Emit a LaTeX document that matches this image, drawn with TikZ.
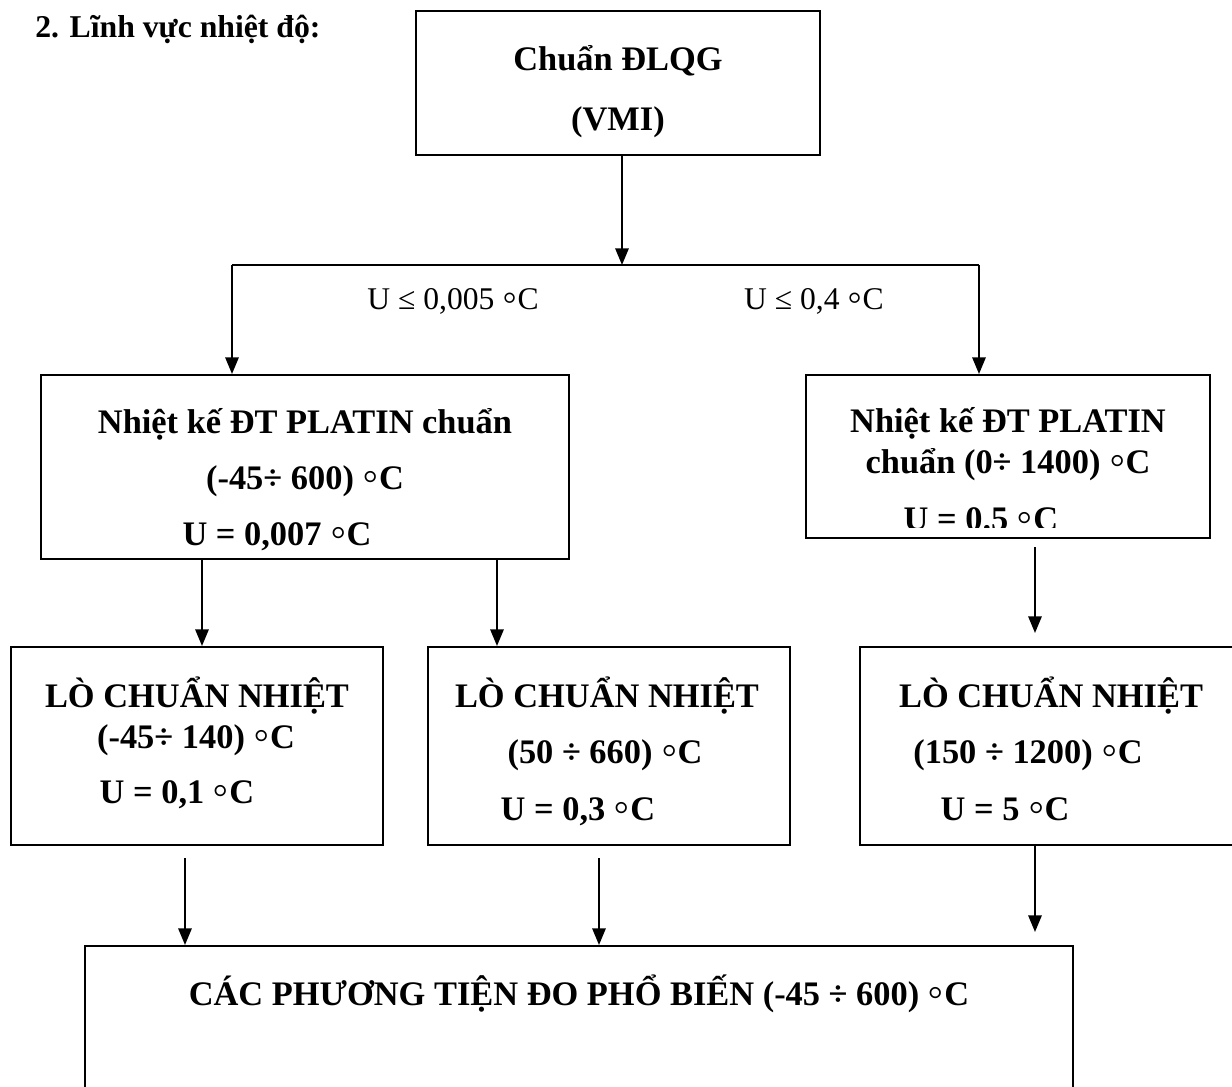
\documentclass[tikz,border=0pt]{standalone}
\usepackage{fontspec}
\usepackage{graphicx}
\setmainfont{Liberation Serif}
\usetikzlibrary{arrows.meta,fit}
\newcommand\dgring{\raisebox{-0.07em}{\scalebox{1.35}{◦}}}
\begin{document}
\begin{tikzpicture}[x=0.75pt,y=-0.75pt,
  bx/.style={draw,line width=1.5pt,inner sep=0pt,rectangle},
  bt/.style={font=\fontsize{25.8}{30}\selectfont\bfseries,inner sep=0pt,anchor=base},
  ttl/.style={font=\fontsize{23.8}{28}\selectfont\bfseries,inner sep=0pt,anchor=base west},
  rt/.style={font=\fontsize{23.7}{28}\selectfont,inner sep=0pt,anchor=base},
  arr/.style={line width=1.5pt,-{Triangle[width=10pt,length=12.5pt]}},
  ln/.style={line width=1.5pt}]
\useasboundingbox (0,0) rectangle (1232,1086);
\clip (0,0) rectangle (1232,1086);

% title
\node[ttl] (title) at (35,37) {2. Lĩnh vực nhiệt độ:};

% boxes
\node[bx, fit={(416,11) (820,155)}] (top) {};
\node[bx, fit={(41,375) (569,559)}] (L) {};
\node[bx, fit={(806,375) (1210,538)}] (R) {};
\node[bx, fit={(11,647) (383,845)}] (A) {};
\node[bx, fit={(428,647) (790,845)}] (B) {};
\node[bx, fit={(860,647) (1250,845)}] (C) {};
\node[bx, fit={(85,946) (1073,1110)}] (F) {};

% texts
\node[bt] (t1) at (618,70) {Chuẩn ĐLQG};
\node[bt] (t2) at (618,130) {(VMI)};

\node[rt] (u1) at (453,309) {U ≤ 0,005 \dgring C};
\node[rt] (u2) at (814,309) {U ≤ 0,4 \dgring C};

\node[bt] (l1) at (305,433) {Nhiệt kế ĐT PLATIN chuẩn};
\node[bt] (l2) at (305,489) {(-45÷ 600) \dgring C};
\node[bt] (l3) at (277,545) {U = 0,007 \dgring C};

\node[bt] (r1t) at (1008,432) {Nhiệt kế ĐT PLATIN};
\node[bt] (r2t) at (1008,473) {chuẩn (0÷ 1400) \dgring C};
\begin{scope}
  \clip (806,375) rectangle (1210,527);
  \node[bt] (r3t) at (981,530) {U = 0.5 \dgring C};
\end{scope}

\node[bt] (a1) at (197,707) {LÒ CHUẨN NHIỆT};
\node[bt] (a2) at (196,748) {(-45÷ 140) \dgring C};
\node[bt] (a3) at (177,803) {U = 0,1 \dgring C};

\node[bt] (b1) at (607,707) {LÒ CHUẨN NHIỆT};
\node[bt] (b2) at (605,763) {(50 ÷ 660) \dgring C};
\node[bt] (b3) at (578,820) {U = 0,3 \dgring C};

\node[bt] (c1) at (1051,707) {LÒ CHUẨN NHIỆT};
\node[bt] (c2) at (1028,763) {(150 ÷ 1200) \dgring C};
\node[bt] (c3) at (1005,820) {U = 5 \dgring C};

\node[bt] (f1) at (579,1005) {CÁC PHƯƠNG TIỆN ĐO PHỔ BIẾN (-45 ÷ 600) \dgring C};

% junction coordinates
\coordinate (j) at (622,265);
\coordinate (jl) at (232,265);
\coordinate (jr) at (979,265);
\coordinate (xa) at (202,0);
\coordinate (xb) at (497,0);
\coordinate (rs) at (1035,547);
\coordinate (re) at (1035,633);
\coordinate (as) at (185,858);
\coordinate (bs) at (599,858);
\coordinate (ce) at (1035,932);

% connectors
\draw[arr] (top.south -| j) -- (j);
\draw[ln] (jl) -- (jr);
\draw[arr] (jl) -- (jl |- L.north);
\draw[arr] (jr) -- (jr |- R.north);
\draw[arr] (L.south -| xa) -- (A.north -| xa);
\draw[arr] (L.south -| xb) -- (B.north -| xb);
\draw[arr] (rs) -- (re);
\draw[arr] (as) -- (F.north -| as);
\draw[arr] (bs) -- (F.north -| bs);
\draw[arr] (C.south -| ce) -- (ce);
\end{tikzpicture}
\end{document}
